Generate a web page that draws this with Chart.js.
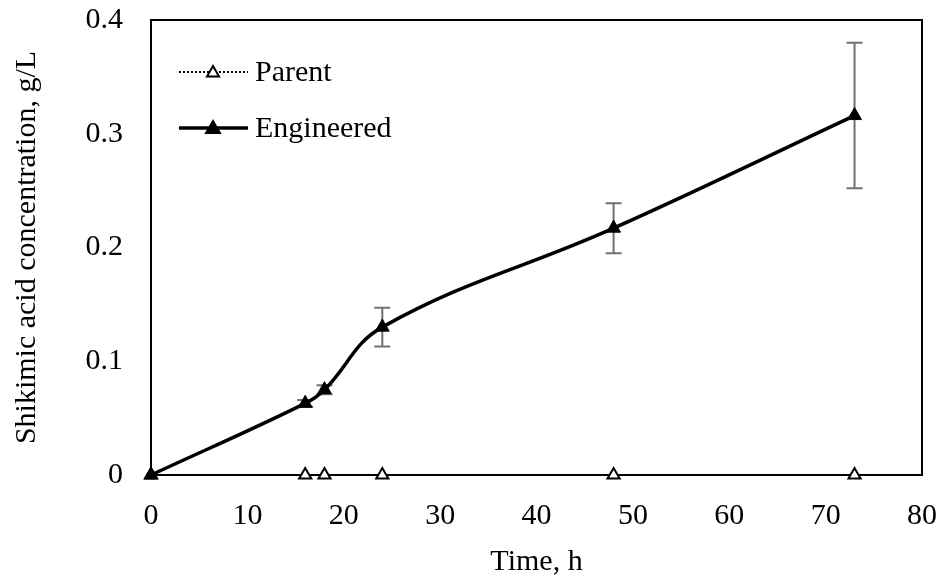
<!DOCTYPE html>
<html>
<head>
<meta charset="utf-8">
<script src="https://cdn.jsdelivr.net/npm/chart.js@4.4.1/dist/chart.umd.min.js"></script>
<style>
  html, body { margin: 0; padding: 0; background: #ffffff; }
  #wrap { width: 942px; height: 581px; position: relative; }
</style>
</head>
<body>
<div id="wrap"><canvas id="shikimicChart"></canvas></div>
<script>
    // ---------------- Data -----------------------------------------------------
    const timeHours      = [ 0, 16, 18, 24, 48, 73 ] ;
    const parentValues   = [ 0, 0, 0, 0, 0, 0 ] ;
    const engineeredVals = [ 0, 0.063, 0.075, 0.130, 0.217, 0.316 ] ;
    const engineeredErr  = [ 0, 0.003, 0.004, 0.017, 0.022, 0.064 ] ;
    const xTickValues    = [ 0, 10, 20, 30, 40, 50, 60, 70, 80 ] ;
    const yTickValues    = [ 0, 0.1, 0.2, 0.3, 0.4 ] ;
    const seriesNames    = [ "Parent", "Engineered" ] ;

    // ---------------- Constants ----------------------------------------------
    const FONT_FAMILY = "'Liberation Serif', 'Times New Roman', serif" ;
    const FONT_SIZE   = 30 ;

    function toPoints( xs, ys ) {
        var pts = [] ;
        for( var i=0; i<xs.length; i++ ) {
            pts.push( { x: xs[i], y: ys[i] } ) ;
        }
        return pts ;
    }

    // ---------------- Plugins ------------------------------------------------
    // Box round the plot area and the error bars, under the series
    const frameAndErrorBars = {
        id : 'frameAndErrorBars',
        beforeDatasetsDraw : function( chart ) {
            var ctx = chart.ctx ;
            var area = chart.chartArea ;
            var xs = chart.scales.x ;
            var ys = chart.scales.y ;

            ctx.save() ;
            ctx.strokeStyle = '#000000' ;
            ctx.lineWidth = 2 ;
            ctx.strokeRect( area.left, area.top, area.right - area.left, area.bottom - area.top ) ;

            ctx.strokeStyle = '#707070' ;
            ctx.lineWidth = 2 ;
            for( var i=0; i<timeHours.length; i++ ) {
                if( engineeredErr[i] <= 0 ) continue ;
                var px  = xs.getPixelForValue( timeHours[i] ) ;
                var top = ys.getPixelForValue( engineeredVals[i] + engineeredErr[i] ) ;
                var bot = ys.getPixelForValue( engineeredVals[i] - engineeredErr[i] ) ;
                ctx.beginPath() ;
                ctx.moveTo( px, top ) ; ctx.lineTo( px, bot ) ;
                ctx.moveTo( px - 8, top ) ; ctx.lineTo( px + 8, top ) ;
                ctx.moveTo( px - 8, bot ) ; ctx.lineTo( px + 8, bot ) ;
                ctx.stroke() ;
            }
            ctx.restore() ;
        }
    } ;

    function drawTriangle( ctx, cx, cy, r, filled ) {
        var h = r * 1.5 ;
        var w = r * Math.sqrt( 3 ) ;
        ctx.beginPath() ;
        ctx.moveTo( cx, cy - r ) ;
        ctx.lineTo( cx + w / 2, cy - r + h ) ;
        ctx.lineTo( cx - w / 2, cy - r + h ) ;
        ctx.closePath() ;
        ctx.fillStyle = filled ? '#000000' : '#ffffff' ;
        ctx.fill() ;
        ctx.lineWidth = 2 ;
        ctx.strokeStyle = '#000000' ;
        ctx.stroke() ;
    }

    // Legend inside the plot, top left, Excel style
    const insideLegend = {
        id : 'insideLegend',
        afterDraw : function( chart ) {
            var ctx = chart.ctx ;
            var rows = [
                { y: 72,  dash: [ 2, 2 ], width: 2,   filled: false },
                { y: 128, dash: [],       width: 3.5, filled: true  }
            ] ;
            ctx.save() ;
            for( var i=0; i<rows.length; i++ ) {
                var row = rows[i] ;
                ctx.beginPath() ;
                ctx.setLineDash( row.dash ) ;
                ctx.lineWidth = row.width ;
                ctx.strokeStyle = '#000000' ;
                ctx.moveTo( 179, row.y ) ;
                ctx.lineTo( 248, row.y ) ;
                ctx.stroke() ;
                ctx.setLineDash( [] ) ;
                drawTriangle( ctx, 213, row.y + 1, row.filled ? 8 : 7, row.filled ) ;

                ctx.fillStyle = '#000000' ;
                ctx.font = FONT_SIZE + "px " + FONT_FAMILY ;
                ctx.textAlign = 'left' ;
                ctx.textBaseline = 'middle' ;
                ctx.fillText( seriesNames[i], 255, row.y + 1 ) ;
            }
            ctx.restore() ;
        }
    } ;

    // ---------------- Datasets -----------------------------------------------
    function getParentDataset() {
        return {
            label            : seriesNames[0],
            data             : toPoints( timeHours, parentValues ),
            borderColor      : '#000000',
            backgroundColor  : '#ffffff',
            borderWidth      : 2,
            borderDash       : [ 2, 2 ],
            tension          : 0,
            pointStyle       : 'triangle',
            pointRadius      : 7,
            pointBorderWidth : 2,
            pointBorderColor : '#000000',
            pointBackgroundColor : '#ffffff',
            clip             : false,
            order            : 2,
        } ;
    }

    function getEngineeredDataset() {
        return {
            label            : seriesNames[1],
            data             : toPoints( timeHours, engineeredVals ),
            borderColor      : '#000000',
            backgroundColor  : '#000000',
            borderWidth      : 3.5,
            tension          : 0.4,
            pointStyle       : 'triangle',
            pointRadius      : 8,
            pointBorderWidth : 1,
            pointBorderColor : '#000000',
            pointBackgroundColor : '#000000',
            clip             : false,
            order            : 1,
        } ;
    }

    // ---------------- Options ------------------------------------------------
    function getScaleOptions() {
        var tickFont = { family: FONT_FAMILY, size: FONT_SIZE } ;
        return {
            x : {
                type : 'linear',
                min  : 0,
                max  : 80,
                afterFit : function( scale ) {
                    scale.height = 106 ;
                    scale.paddingLeft = 0 ;
                    scale.paddingRight = 0 ;
                },
                afterBuildTicks : function( scale ) {
                    scale.ticks = xTickValues.map( function( v ) { return { value: v } ; } ) ;
                },
                ticks : { color: '#000000', font: tickFont, padding: 23, maxRotation: 0 },
                grid  : { display: false, drawTicks: false },
                border: { display: false },
                title : {
                    display : true,
                    text    : 'Time, h',
                    color   : '#000000',
                    font    : tickFont,
                    padding : { top: 0, bottom: 1 }
                }
            },
            y : {
                type : 'linear',
                min  : 0,
                max  : 0.4,
                afterFit : function( scale ) {
                    scale.width = 151 ;
                    scale.paddingTop = 0 ;
                    scale.paddingBottom = 0 ;
                },
                afterBuildTicks : function( scale ) {
                    scale.ticks = yTickValues.map( function( v ) { return { value: v } ; } ) ;
                },
                ticks : {
                    color : '#000000',
                    font  : tickFont,
                    padding : 28,
                    callback : function( value ) { return '' + Math.round( value * 10 ) / 10 ; }
                },
                grid  : { display: false, drawTicks: false },
                border: { display: false },
                title : {
                    display : true,
                    text    : 'Shikimic acid concentration, g/L',
                    color   : '#000000',
                    font    : tickFont,
                    padding : { top: 9, bottom: 0 }
                }
            }
        } ;
    }

    function getChartOptions() {
        return {
            responsive : false,
            animation  : false,
            layout     : { padding: { left: 0, right: 20, top: 20, bottom: 0 } },
            plugins    : {
                legend  : { display: false },
                tooltip : { enabled: false }
            },
            scales : getScaleOptions()
        } ;
    }

    var canvas = document.getElementById( 'shikimicChart' ) ;
    canvas.width = 942 ;
    canvas.height = 581 ;
    var chart = new Chart( canvas, {
        type : 'line',
        data : {
            datasets : [ getEngineeredDataset(), getParentDataset() ]
        },
        options : getChartOptions(),
        plugins : [ frameAndErrorBars, insideLegend ]
    } ) ;
</script>
</body>
</html>
